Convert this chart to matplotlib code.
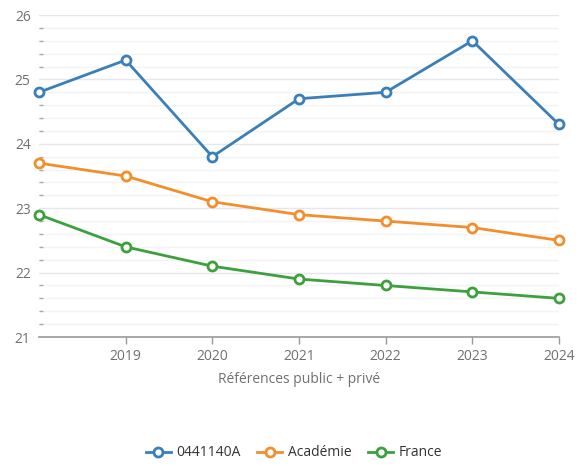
import matplotlib
matplotlib.use("Agg")
import matplotlib.pyplot as plt
from matplotlib.ticker import MultipleLocator

years = [2018, 2019, 2020, 2021, 2022, 2023, 2024]
xticks = [2019, 2020, 2021, 2022, 2023, 2024]
etab = [24.8, 25.3, 23.8, 24.7, 24.8, 25.6, 24.3]
academie = [23.7, 23.5, 23.1, 22.9, 22.8, 22.7, 22.5]
france = [22.9, 22.4, 22.1, 21.9, 21.8, 21.7, 21.6]
names = ["0441140A", "Académie", "France"]
colors = ["#3a7fb8", "#f28e2b", "#3ca03c"]

plt.rcParams['font.family'] = ['Open Sans', 'DejaVu Sans']

fig = plt.figure(figsize=(5.88, 4.66), dpi=100)
ax = fig.add_axes([0.0663, 0.2768, 0.9507 - 0.0663, 0.9678 - 0.2768])

for vals, name, c in zip([etab, academie, france], names, colors):
    ax.plot(years, vals, color=c, lw=2, marker='o', ms=6.5, mfc='white',
            mec=c, mew=2, label=name, zorder=3, clip_on=False)

ax.set_xlim(2018, 2024)
ax.set_ylim(21, 26)
ax.set_xticks(xticks)
ax.yaxis.set_major_locator(MultipleLocator(1))
ax.yaxis.set_minor_locator(MultipleLocator(0.2))
ax.grid(which='major', axis='y', color='#e6e6ee', lw=1)
ax.grid(which='minor', axis='y', color='#f3f3f6', lw=1)
ax.set_axisbelow(True)
for s in ['top', 'right', 'left']:
    ax.spines[s].set_visible(False)
ax.spines['bottom'].set_color('#999999')
ax.spines['bottom'].set_linewidth(1.2)
ax.tick_params(axis='x', colors='#999999', labelcolor='#707070', labelsize=10, length=5, width=1)
ax.tick_params(axis='y', which='major', length=0, labelcolor='#707070', labelsize=10, pad=6)
ax.tick_params(axis='y', which='minor', length=3, width=1, color='#aaaaaa', direction='in', pad=0)
ax.set_xlabel("Références public + privé", color='#707070', fontsize=10, labelpad=6)

fig.legend(loc='center', bbox_to_anchor=(0.5, 0.028), ncol=3, frameon=False,
           fontsize=10, handlelength=1.8, columnspacing=1.2, handletextpad=0.4,
           labelcolor='#333333')

fig.savefig("out.png", dpi=100)
